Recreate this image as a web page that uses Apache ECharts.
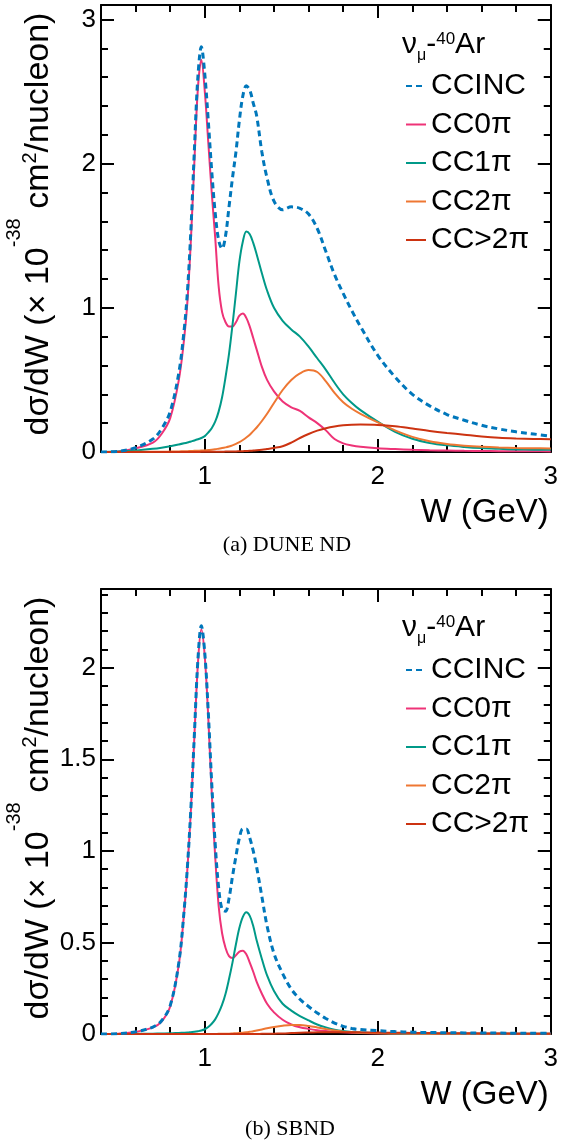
<!DOCTYPE html>
<html>
<head>
<meta charset="utf-8">
<script src="https://cdn.jsdelivr.net/npm/echarts@6/dist/echarts.min.js"></script>
<style>
  html, body { margin: 0; padding: 0; background: #ffffff; }
  #chart { width: 561px; height: 1144px; }
</style>
</head>
<body>
<div id="chart"></div>
<script>
// Hadronic invariant mass W (GeV) sampling points shared by every curve
const W = [0.4, 0.5, 0.6, 0.7, 0.75, 0.8, 0.85, 0.88, 0.9,
  0.92, 0.94, 0.96, 0.98, 1.0, 1.02, 1.04, 1.06, 1.08, 1.1,
  1.12, 1.14, 1.16, 1.18, 1.2, 1.22, 1.24, 1.26, 1.28, 1.3,
  1.33, 1.36, 1.4, 1.45, 1.5, 1.55, 1.6, 1.65, 1.7, 1.75,
  1.8, 1.85, 1.9, 2.0, 2.1, 2.2, 2.3, 2.4, 2.5, 2.6,
  2.7, 2.8, 2.9, 3.0];

const seriesNames = ['CCINC', 'CC0\u03c0', 'CC1\u03c0', 'CC2\u03c0', 'CC>2\u03c0'];

// (a) DUNE ND, dsigma/dW in 1e-38 cm^2/nucleon/GeV
const duneCCINC = [0, 0.005, 0.03, 0.09, 0.16, 0.28, 0.55, 0.84, 1.12,
  1.55, 2.10, 2.60, 2.81, 2.62, 2.30, 1.95, 1.66, 1.47, 1.41,
  1.50, 1.70, 1.90, 2.08, 2.30, 2.47, 2.54, 2.51, 2.42, 2.33,
  2.08, 1.90, 1.74, 1.68, 1.70, 1.69, 1.65, 1.55, 1.39, 1.23,
  1.10, 0.98, 0.87, 0.67, 0.52, 0.40, 0.32, 0.26, 0.22, 0.185,
  0.16, 0.14, 0.125, 0.11];
const duneCC0pi = [0, 0.004, 0.025, 0.065, 0.125, 0.235, 0.50, 0.78, 1.05,
  1.48, 2.02, 2.52, 2.72, 2.50, 2.15, 1.80, 1.49, 1.15, 0.97,
  0.90, 0.87, 0.87, 0.90, 0.945, 0.96, 0.93, 0.87, 0.79, 0.71,
  0.59, 0.50, 0.42, 0.35, 0.31, 0.285, 0.24, 0.20, 0.15, 0.09,
  0.06, 0.045, 0.036, 0.026, 0.02, 0.015, 0.012, 0.01, 0.008, 0.007,
  0.006, 0.005, 0.005, 0.004];
const duneCC1pi = [0, 0.003, 0.01, 0.022, 0.03, 0.04, 0.052, 0.06, 0.066,
  0.073, 0.08, 0.088, 0.097, 0.11, 0.135, 0.165, 0.21, 0.28, 0.38,
  0.52, 0.68, 0.88, 1.10, 1.32, 1.46, 1.53, 1.51, 1.45, 1.37,
  1.24, 1.12, 1.00, 0.91, 0.85, 0.80, 0.73, 0.65, 0.57, 0.48,
  0.40, 0.34, 0.29, 0.21, 0.14, 0.092, 0.063, 0.046, 0.035, 0.027,
  0.022, 0.018, 0.016, 0.015];
const duneCC2pi = [0, 0, 0.001, 0.002, 0.002, 0.003, 0.004, 0.005, 0.006,
  0.007, 0.008, 0.009, 0.01, 0.012, 0.014, 0.016, 0.019, 0.023, 0.027,
  0.032, 0.038, 0.046, 0.056, 0.068, 0.083, 0.10, 0.12, 0.145, 0.17,
  0.215, 0.265, 0.34, 0.43, 0.50, 0.545, 0.568, 0.555, 0.49, 0.41,
  0.345, 0.30, 0.265, 0.205, 0.15, 0.105, 0.075, 0.056, 0.044, 0.036,
  0.031, 0.028, 0.026, 0.025];
const duneCCmulti = [0, 0, 0, 0, 0, 0, 0, 0, 0,
  0, 0, 0, 0.001, 0.001, 0.001, 0.001, 0.002, 0.002, 0.002,
  0.003, 0.003, 0.004, 0.004, 0.005, 0.006, 0.007, 0.008, 0.01, 0.012,
  0.016, 0.021, 0.028, 0.04, 0.065, 0.097, 0.125, 0.148, 0.165, 0.177,
  0.185, 0.189, 0.19, 0.188, 0.179, 0.163, 0.146, 0.132, 0.12, 0.108,
  0.099, 0.094, 0.091, 0.089];

// (b) SBND
const sbndCCINC = [0, 0.002, 0.012, 0.038, 0.072, 0.155, 0.39, 0.67, 0.92,
  1.24, 1.64, 2.04, 2.23, 2.08, 1.76, 1.37, 1.04, 0.80, 0.68,
  0.67, 0.74, 0.86, 0.97, 1.07, 1.12, 1.12, 1.07, 1.00, 0.91,
  0.75, 0.59, 0.44, 0.33, 0.245, 0.19, 0.15, 0.115, 0.085, 0.06,
  0.042, 0.03, 0.024, 0.018, 0.013, 0.01, 0.008, 0.007, 0.006, 0.005,
  0.005, 0.004, 0.004, 0.004];
const sbndCC0pi = [0, 0.002, 0.011, 0.036, 0.068, 0.15, 0.38, 0.66, 0.91,
  1.23, 1.63, 2.02, 2.21, 2.06, 1.73, 1.32, 0.97, 0.70, 0.55,
  0.47, 0.425, 0.415, 0.43, 0.45, 0.455, 0.435, 0.39, 0.34, 0.285,
  0.22, 0.165, 0.118, 0.078, 0.052, 0.037, 0.028, 0.021, 0.016, 0.012,
  0.009, 0.007, 0.005, 0.004, 0.003, 0.002, 0.002, 0.001, 0.001, 0.001,
  0.001, 0.001, 0.001, 0.001];
const sbndCC1pi = [0, 0, 0.001, 0.002, 0.003, 0.004, 0.006, 0.007, 0.008,
  0.01, 0.012, 0.015, 0.019, 0.026, 0.038, 0.056, 0.08, 0.115, 0.16,
  0.22, 0.30, 0.39, 0.49, 0.58, 0.64, 0.665, 0.645, 0.59, 0.51,
  0.41, 0.32, 0.235, 0.165, 0.128, 0.098, 0.074, 0.052, 0.036, 0.024,
  0.016, 0.011, 0.008, 0.005, 0.003, 0.002, 0.002, 0.001, 0.001, 0.001,
  0.001, 0.001, 0.001, 0.001];
const sbndCC2pi = [0, 0, 0, 0, 0, 0, 0, 0, 0,
  0, 0, 0, 0, 0, 0, 0, 0, 0.001, 0.001,
  0.002, 0.002, 0.003, 0.004, 0.005, 0.007, 0.009, 0.012, 0.015, 0.019,
  0.025, 0.031, 0.038, 0.045, 0.049, 0.049, 0.044, 0.036, 0.027, 0.019,
  0.013, 0.009, 0.007, 0.004, 0.003, 0.002, 0.002, 0.001, 0.001, 0.001,
  0.001, 0.001, 0.001, 0.001];
const sbndCCmulti = [0, 0, 0, 0, 0, 0, 0, 0, 0,
  0, 0, 0, 0, 0, 0, 0, 0, 0, 0,
  0, 0, 0, 0, 0, 0, 0, 0, 0, 0,
  0.001, 0.001, 0.002, 0.003, 0.005, 0.007, 0.008, 0.009, 0.01, 0.01,
  0.01, 0.01, 0.009, 0.008, 0.007, 0.006, 0.005, 0.004, 0.004, 0.003,
  0.003, 0.002, 0.002, 0.002];

// Axis ticks and labels
const xMajorTicks = [1, 2, 3];
const xMinorTicks = [0.6, 0.8, 1.2, 1.4, 1.6, 1.8, 2.2, 2.4, 2.6, 2.8];
const duneYMajorTicks = [0, 1, 2, 3];
const duneYMinorTicks = [0.2, 0.4, 0.6, 0.8, 1.2, 1.4, 1.6, 1.8, 2.2, 2.4, 2.6, 2.8];
const sbndYMajorTicks = [0, 0.5, 1, 1.5, 2];
const sbndYMinorTicks = [0.1, 0.2, 0.3, 0.4, 0.6, 0.7, 0.8, 0.9, 1.1, 1.2, 1.3, 1.4,
  1.6, 1.7, 1.8, 1.9, 2.1, 2.2, 2.3, 2.4];

const xTitle = 'W (GeV)';
const panelCaptions = ['(a) DUNE ND', '(b) SBND'];

const FONT = "'Liberation Sans', Arial, Helvetica, sans-serif";
const colors = ['#0077BB', '#EE3377', '#009988', '#EE7733', '#CC3311'];

const X_MIN = 0.4, X_MAX = 3;
const panels = [
  { top: 5, height: 447, yMax: 3.1, yMajor: duneYMajorTicks, yMinor: duneYMinorTicks,
    values: [duneCCINC, duneCC0pi, duneCC1pi, duneCC2pi, duneCCmulti] },
  { top: 589, height: 445, yMax: 2.43, yMajor: sbndYMajorTicks, yMinor: sbndYMinorTicks,
    values: [sbndCCINC, sbndCC0pi, sbndCC1pi, sbndCC2pi, sbndCCmulti] }
];

const black = '#000000';
function tickAxis(base, ticks, len, withLine) {
  return Object.assign({}, base, {
    axisLine: { show: withLine, onZero: false, lineStyle: { color: black, width: 2 } },
    axisTick: { show: true, inside: true, length: len, customValues: ticks,
      lineStyle: { color: black, width: 2 } },
    axisLabel: { show: false },
    splitLine: { show: false }
  });
}

const grids = [], xAxes = [], yAxes = [], series = [], legends = [];
panels.forEach((p, g) => {
  grids.push({ left: 101, right: 8, top: p.top, height: p.height });
  const xb = { gridIndex: g, type: 'value', min: X_MIN, max: X_MAX };
  const yb = { gridIndex: g, type: 'value', min: 0, max: p.yMax };

  const xMain = tickAxis(Object.assign({ position: 'bottom' }, xb), xMajorTicks, 13, true);
  xMain.axisLabel = { show: true, customValues: xMajorTicks, fontSize: 26, color: black,
    fontFamily: FONT, margin: 12 };
  xMain.name = xTitle;
  xMain.nameLocation = 'end';
  xMain.nameGap = 0;
  xMain.nameTextStyle = { fontSize: 33, fontFamily: FONT, color: black,
    align: 'right', verticalAlign: 'top', padding: [44, 2, 0, 0] };
  xAxes.push(xMain,
    tickAxis(Object.assign({ position: 'bottom' }, xb), xMinorTicks, 7, false),
    tickAxis(Object.assign({ position: 'top' }, xb), xMajorTicks, 13, true),
    tickAxis(Object.assign({ position: 'top' }, xb), xMinorTicks, 7, false));

  const yMain = tickAxis(Object.assign({ position: 'left' }, yb), p.yMajor, 13, true);
  yMain.axisLabel = { show: true, customValues: p.yMajor, fontSize: 26, color: black,
    fontFamily: FONT, margin: 5 };
  yAxes.push(yMain,
    tickAxis(Object.assign({ position: 'left' }, yb), p.yMinor, 7, false),
    tickAxis(Object.assign({ position: 'right' }, yb), p.yMajor, 13, true),
    tickAxis(Object.assign({ position: 'right' }, yb), p.yMinor, 7, false));

  // exclusive channels first, inclusive dashed curve drawn on top
  const order = [1, 2, 3, 4, 0];
  order.forEach(k => {
    series.push({
      name: seriesNames[k],
      type: 'line',
      xAxisIndex: g * 4,
      yAxisIndex: g * 4,
      data: W.map((w, i) => [w, p.values[k][i]]),
      symbol: 'none',
      smooth: 0.35,
      clip: true,
      lineStyle: k === 0
        ? { color: colors[k], width: 3, type: [6, 4] }
        : { color: colors[k], width: 2 },
      itemStyle: { color: colors[k] },
      z: k === 0 ? 3 : 2
    });
  });

  legends.push({
    orient: 'vertical',
    left: 405,
    top: p.top + 66,
    padding: 0,
    itemWidth: 20,
    itemHeight: 14,
    itemGap: 8.5,
    selectedMode: false,
    data: seriesNames,
    itemStyle: { opacity: 0 },
    lineStyle: { width: 2 },
    textStyle: { fontSize: 30, color: black, fontFamily: FONT, lineHeight: 30 }
  });
});

// text layout helpers for super/subscripts
const mctx = document.createElement('canvas').getContext('2d');
function textWidth(t, size) {
  mctx.font = size + "px 'Liberation Sans'";
  return mctx.measureText(t).width;
}
function scriptPieces(parts) {
  let x = 0;
  const children = parts.map(pt => {
    const el = {
      type: 'text', x: x, y: -(pt.rise || 0) - 0.3465 * pt.size,
      style: { text: pt.t, font: pt.size + "px " + FONT, fill: black,
        textAlign: 'left', textVerticalAlign: 'middle' }
    };
    x += textWidth(pt.t, pt.size);
    return el;
  });
  return { children: children, width: x };
}

const yTitleParts = [
  { t: 'd\u03c3/dW (\u00d7 10', size: 34 },
  { t: '-38', size: 20, rise: 29 },
  { t: ' cm', size: 34 },
  { t: '2', size: 20, rise: 13 },
  { t: '/nucleon)', size: 34 }
];
const targetParts = [
  { t: '\u03bd', size: 30 },
  { t: '\u03bc', size: 16, rise: -6 },
  { t: '-', size: 30 },
  { t: '40', size: 17, rise: 10 },
  { t: 'Ar', size: 30 }
];

const graphics = [];
panels.forEach((p, g) => {
  const yt = scriptPieces(yTitleParts);
  graphics.push({ type: 'group', x: 50, y: p.top + 219 + yt.width / 2,
    rotation: Math.PI / 2, children: yt.children });
  const tg = scriptPieces(targetParts);
  graphics.push({ type: 'group', x: 402, y: p.top + 50 + (g === 1 ? -1 : 0), children: tg.children });
});
graphics.push(
  { type: 'text', x: 287, y: 545,
    style: { text: panelCaptions[0], font: "22px 'Liberation Serif', 'Times New Roman', serif",
      fill: black, textAlign: 'center', textVerticalAlign: 'middle' } },
  { type: 'text', x: 290, y: 1129,
    style: { text: panelCaptions[1], font: "22px 'Liberation Serif', 'Times New Roman', serif",
      fill: black, textAlign: 'center', textVerticalAlign: 'middle' } }
);

const chart = echarts.init(document.getElementById('chart'), null, { renderer: 'canvas' });
chart.setOption({
  animation: false,
  backgroundColor: '#ffffff',
  textStyle: { fontFamily: FONT },
  grid: grids,
  xAxis: xAxes,
  yAxis: yAxes,
  legend: legends,
  series: series,
  graphic: { elements: graphics }
});
</script>
</body>
</html>
